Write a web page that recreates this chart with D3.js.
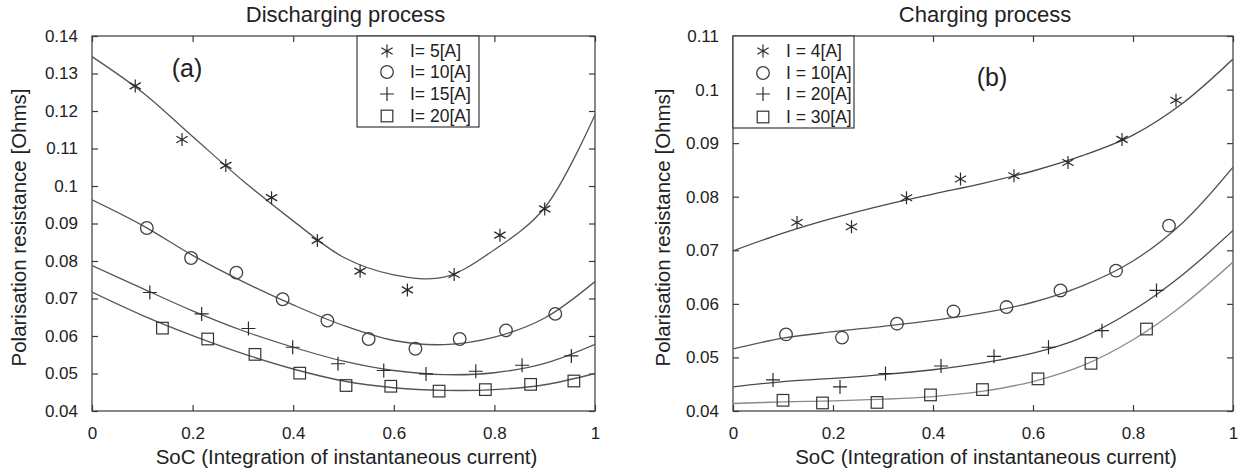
<!DOCTYPE html>
<html>
<head>
<meta charset="utf-8">
<script src="https://cdn.jsdelivr.net/npm/d3@7"></script>
<style>
  html, body { margin: 0; padding: 0; background: #fff; }
  svg { display: block; }
  text { font-family: "Liberation Sans", Arial, sans-serif; fill: #222; }
</style>
</head>
<body>
<svg id="chart" width="1250" height="474"></svg>
<script>
// ---------------- DATA ----------------
const fitX = [0, 0.1, 0.2, 0.3, 0.4, 0.5, 0.6, 0.7, 0.8, 0.9, 1.0];

// (a) Discharging process
const disLabels = ["I= 5[A]", "I= 10[A]", "I= 15[A]", "I= 20[A]"];
const disI5x  = [0.086, 0.179, 0.266, 0.357, 0.448, 0.533, 0.627, 0.720, 0.811, 0.900];
const disI5y  = [0.1267, 0.1124, 0.1055, 0.0969, 0.0855, 0.0773, 0.0723, 0.0764, 0.0869, 0.0939];
const disI10x = [0.109, 0.197, 0.287, 0.379, 0.468, 0.550, 0.643, 0.731, 0.823, 0.921];
const disI10y = [0.0888, 0.0808, 0.0769, 0.0698, 0.0641, 0.0592, 0.0566, 0.0592, 0.0615, 0.0659];
const disI15x = [0.115, 0.218, 0.311, 0.399, 0.489, 0.580, 0.664, 0.763, 0.855, 0.953];
const disI15y = [0.0716, 0.0659, 0.0620, 0.0570, 0.0526, 0.0508, 0.0499, 0.0506, 0.0522, 0.0547];
const disI20x = [0.140, 0.230, 0.324, 0.413, 0.505, 0.594, 0.690, 0.782, 0.872, 0.958];
const disI20y = [0.0621, 0.0592, 0.0551, 0.0501, 0.0468, 0.0466, 0.0453, 0.0457, 0.0471, 0.0480];
const disFit5  = [0.1345, 0.1250, 0.1132, 0.1014, 0.0907, 0.0810, 0.0763, 0.0757, 0.0830, 0.0942, 0.1190];
const disFit10 = [0.0963, 0.0895, 0.0815, 0.0745, 0.0683, 0.0628, 0.0588, 0.0577, 0.0597, 0.0648, 0.0745];
const disFit15 = [0.0788, 0.0727, 0.0667, 0.0614, 0.0570, 0.0533, 0.0508, 0.0497, 0.0502, 0.0527, 0.0578];
const disFit20 = [0.0717, 0.0655, 0.0601, 0.0553, 0.0512, 0.0480, 0.0462, 0.0455, 0.0457, 0.0470, 0.0500];
const disYTicks = [0.04, 0.05, 0.06, 0.07, 0.08, 0.09, 0.1, 0.11, 0.12, 0.13, 0.14];

// (b) Charging process
const chLabels = ["I = 4[A]", "I = 10[A]", "I = 20[A]", "I = 30[A]"];
const chI4x  = [0.128, 0.237, 0.347, 0.455, 0.562, 0.670, 0.778, 0.886];
const chI4y  = [0.0752, 0.0744, 0.0798, 0.0833, 0.0839, 0.0864, 0.0907, 0.0980];
const chI10x = [0.106, 0.218, 0.328, 0.441, 0.547, 0.655, 0.766, 0.872];
const chI10y = [0.0543, 0.0537, 0.0563, 0.0586, 0.0594, 0.0625, 0.0662, 0.0746];
const chI20x = [0.080, 0.214, 0.305, 0.416, 0.522, 0.631, 0.738, 0.847];
const chI20y = [0.0458, 0.0445, 0.0470, 0.0484, 0.0502, 0.0519, 0.0550, 0.0625];
const chI30x = [0.100, 0.179, 0.288, 0.395, 0.499, 0.610, 0.716, 0.827];
const chI30y = [0.0420, 0.0415, 0.0416, 0.0430, 0.0440, 0.0460, 0.0489, 0.0553];
const chFit4  = [0.0699, 0.0732, 0.0760, 0.0784, 0.0805, 0.0825, 0.0848, 0.0877, 0.0915, 0.0975, 0.1057];
const chFit10 = [0.0516, 0.0536, 0.0548, 0.0558, 0.0569, 0.0583, 0.0603, 0.0634, 0.0680, 0.0752, 0.0855];
const chFit20 = [0.0445, 0.0455, 0.0461, 0.0468, 0.0477, 0.0490, 0.0508, 0.0538, 0.0588, 0.0655, 0.0737];
const chFit30 = [0.0414, 0.0417, 0.0419, 0.0422, 0.0427, 0.0437, 0.0455, 0.0485, 0.0533, 0.0598, 0.0678];
const chYTicks = [0.04, 0.05, 0.06, 0.07, 0.08, 0.09, 0.1, 0.11];

const xTicks = [0, 0.2, 0.4, 0.6, 0.8, 1];
const xTickLabels = ["0", "0.2", "0.4", "0.6", "0.8", "1"];
const markerTypes = ["star", "circle", "plus", "square"];

// ---------------- DRAW ----------------
const svg = d3.select("#chart");
const frameColor = "#3a3a3a";

function drawMarker(g, type, cx, cy) {
  const m = g.append("g").attr("transform", `translate(${cx},${cy})`);
  const col = "#2a2a2a";
  if (type === "star") {
    const s = 6.5;
    const a = s * Math.cos(Math.PI / 6), b = s * Math.sin(Math.PI / 6);
    m.append("path").attr("d", `M0,${-s}L0,${s}M${-a},${-b}L${a},${b}M${-a},${b}L${a},${-b}`)
      .attr("stroke", col).attr("stroke-width", 1.2).attr("fill", "none");
  } else if (type === "circle") {
    m.append("circle").attr("r", 6.3).attr("fill", "none").attr("stroke", "#404040").attr("stroke-width", 1.3);
  } else if (type === "plus") {
    const s = 7;
    m.append("path").attr("d", `M0,${-s}L0,${s}M${-s},0L${s},0`)
      .attr("stroke", col).attr("stroke-width", 1.2).attr("fill", "none");
  } else {
    const s = 5.8;
    m.append("rect").attr("x", -s).attr("y", -s).attr("width", 2 * s).attr("height", 2 * s)
      .attr("fill", "none").attr("stroke", "#333").attr("stroke-width", 1.2);
  }
}

function drawPanel(cfg) {
  const x = d3.scaleLinear().domain([0, 1]).range([cfg.left, cfg.right]);
  const y = d3.scaleLinear().domain(cfg.yDomain).range([cfg.bottom, cfg.top]);
  const g = svg.append("g");

  g.append("rect").attr("x", cfg.left).attr("y", cfg.top)
    .attr("width", cfg.right - cfg.left).attr("height", cfg.bottom - cfg.top)
    .attr("fill", "none").attr("stroke", frameColor).attr("stroke-width", 1.2);

  const fmtY = d => String(+d.toFixed(2));
  const axL = g.append("g").attr("transform", `translate(${cfg.left},0)`)
    .call(d3.axisLeft(y).tickValues(cfg.yTicks).tickFormat(fmtY).tickSizeInner(-6).tickSizeOuter(0).tickPadding(14));
  const axR = g.append("g").attr("transform", `translate(${cfg.right},0)`)
    .call(d3.axisRight(y).tickValues(cfg.yTicks).tickFormat("").tickSizeInner(-6).tickSizeOuter(0));
  const axB = g.append("g").attr("transform", `translate(0,${cfg.bottom})`)
    .call(d3.axisBottom(x).tickValues(xTicks).tickFormat((d, i) => xTickLabels[i]).tickSizeInner(-6).tickSizeOuter(0).tickPadding(16));
  const axT = g.append("g").attr("transform", `translate(0,${cfg.top})`)
    .call(d3.axisTop(x).tickValues(xTicks).tickFormat("").tickSizeInner(-6).tickSizeOuter(0));
  [axL, axR, axB, axT].forEach(a => {
    a.select(".domain").remove();
    a.selectAll("line").attr("stroke", frameColor).attr("stroke-width", 1.2);
    a.selectAll("text").attr("font-size", 17).attr("fill", "#222")
      .attr("font-family", '"Liberation Sans", Arial, sans-serif');
  });

  const line = d3.line().x((d, i) => x(fitX[i])).y(d => y(d)).curve(d3.curveCatmullRom.alpha(0.5));
  const clipId = "clip" + cfg.id;
  svg.append("clipPath").attr("id", clipId).append("rect")
    .attr("x", cfg.left).attr("y", cfg.top).attr("width", cfg.right - cfg.left).attr("height", cfg.bottom - cfg.top);
  const cg = g.append("g").attr("clip-path", `url(#${clipId})`);
  cfg.fits.forEach((f, i) => {
    cg.append("path").attr("d", line(f)).attr("fill", "none")
      .attr("stroke", cfg.fitColors[i]).attr("stroke-width", 1.3);
  });

  cfg.series.forEach((s, k) => {
    s.x.forEach((xv, i) => drawMarker(g, markerTypes[k], x(xv), y(s.y[i])));
  });

  const lg = g.append("g");
  lg.append("rect").attr("x", cfg.legend.x0).attr("y", cfg.legend.y0)
    .attr("width", cfg.legend.x1 - cfg.legend.x0).attr("height", cfg.legend.y1 - cfg.legend.y0)
    .attr("fill", "#fff").attr("stroke", frameColor).attr("stroke-width", 1.2);
  cfg.labels.forEach((lab, i) => {
    const yy = cfg.legend.rows[i];
    drawMarker(lg, markerTypes[i], cfg.legend.sx, yy);
    lg.append("text").attr("x", cfg.legend.tx).attr("y", yy).attr("dy", "0.36em")
      .attr("font-size", 17.5).text(lab);
  });

  g.append("text").attr("x", cfg.letter.x).attr("y", cfg.letter.y)
    .attr("text-anchor", "middle").attr("font-size", 25)
    .attr("font-family", '"Open Sans", "Noto Sans", sans-serif').attr("fill", "#1a1a1a")
    .text(cfg.letter.t);

  g.append("text").attr("x", (cfg.left + cfg.right) / 2 + 2).attr("y", 22)
    .attr("text-anchor", "middle").attr("font-size", 22).text(cfg.title);

  g.append("text").attr("x", (cfg.left + cfg.right) / 2 + 3).attr("y", 464)
    .attr("text-anchor", "middle").attr("font-size", 20.5)
    .text("SoC (Integration of instantaneous current)");

  g.append("text").attr("transform", `translate(${cfg.ylabX},${(cfg.top + cfg.bottom) / 2 + 4}) rotate(-90)`)
    .attr("text-anchor", "middle").attr("font-size", 20.5)
    .text("Polarisation resistance [Ohms]");
}

drawPanel({
  id: "a", left: 92, right: 595, top: 36, bottom: 411,
  yDomain: [0.04, 0.14], yTicks: disYTicks,
  fits: [disFit5, disFit10, disFit15, disFit20],
  fitColors: ["#555", "#555", "#555", "#555"],
  series: [{x: disI5x, y: disI5y}, {x: disI10x, y: disI10y}, {x: disI15x, y: disI15y}, {x: disI20x, y: disI20y}],
  labels: disLabels,
  legend: {x0: 357, x1: 479, y0: 36, y1: 127, sx: 387, tx: 410, rows: [51, 72, 94, 116]},
  letter: {x: 187, y: 77, t: "(a)"},
  title: "Discharging process",
  ylabX: 26
});

drawPanel({
  id: "b", left: 733, right: 1233, top: 36, bottom: 411,
  yDomain: [0.04, 0.11], yTicks: chYTicks,
  fits: [chFit4, chFit10, chFit20, chFit30],
  fitColors: ["#4a4a4a", "#555", "#4a4a4a", "#8a8a8a"],
  series: [{x: chI4x, y: chI4y}, {x: chI10x, y: chI10y}, {x: chI20x, y: chI20y}, {x: chI30x, y: chI30y}],
  labels: chLabels,
  legend: {x0: 733, x1: 854, y0: 36, y1: 128, sx: 763, tx: 786, rows: [51, 73, 94, 117]},
  letter: {x: 992, y: 86, t: "(b)"},
  title: "Charging process",
  ylabX: 670
});
</script>
</body>
</html>
